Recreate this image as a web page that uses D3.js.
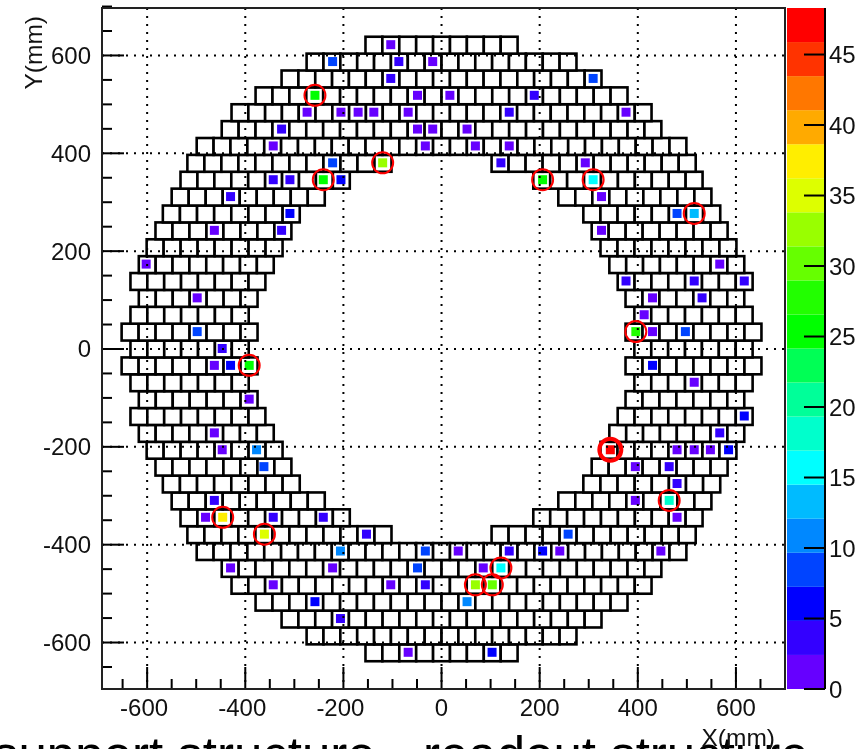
<!DOCTYPE html>
<html>
<head>
<meta charset="utf-8">
<script src="https://d3js.org/d3.v7.min.js"></script>
<style>
  body { margin: 0; background: #fff; overflow: hidden; }
  svg { display: block; font-family: "Liberation Sans", Arial, sans-serif; filter: blur(0.4px); }
  text { fill: #111; }
</style>
</head>
<body>
<svg id="chart" width="861" height="749"></svg>
<script>
const w = 861;
const h = 749;

const margin = { left: 102, right: 76, top: 8, bottom: 60 };

// half widths of each row (mm), index = |row| , row 0 is the middle one
const rowOuter = [634, 652, 634, 617, 634, 617, 601, 583, 568, 550, 532, 518, 499, 448, 428, 379, 326, 275, 155];
const rowInner = [393, 375, 393, 375, 359, 342, 324, 306, 289, 238, 187, 102, 0, 0, 0, 0, 0, 0, 0];
const rowCells = [7, 8, 7, 7, 8, 8, 8, 8, 8, 9, 10, 12, 29, 26, 25, 22, 19, 16, 9];

const rowPitch = 34.5;

// hits: x in mm, row number, charge
const hitX = [-103.5, -222, -87, -18, -103.5, 309, -258, -49, 17, 189,
  -274, -205, -170, -138, -68, 138, 376, -326, -49, -18, 52,
  -343, -33, 69, 138, -222, -120, 121, 293,
  -343, -309, -241, -205, 206, 309, -430, 326, -309, 480, 515,
  -463, -326, 326, -602, 567, 376, 515, 617, -498, 430, 531, 413,
  -498, 396, 430, 497, -447, -463, -430, -392, 430, 515, -392, 617, -463, 567,
  -447, -377, 344, 480, 515, 548, 585, -362, 395, 464, 480,
  -463, 395, 464, -481, -446, -343, -241, 480, -361, -153, 258,
  -206, -33, 34, 138, 206, 241, 447, -430, -222, -49, 85, 121,
  -343, -103.5, -33, 69, 103.5, -258, 52, -206, -68, 103];
const hitRow = [18, 17, 17, 17, 16, 16, 15, 15, 15, 15,
  14, 14, 14, 14, 14, 14, 14, 13, 13, 13, 13,
  12, 12, 12, 12, 11, 11, 11, 11,
  10, 10, 10, 10, 10, 10, 9, 9, 8, 8, 8,
  7, 7, 7, 5, 5, 4, 4, 4, 3, 3, 3, 2,
  1, 1, 1, 1, 0, -1, -1, -1, -1, -2, -3, -4, -5, -5,
  -6, -6, -6, -6, -6, -6, -6, -7, -7, -7, -8,
  -9, -9, -9, -10, -10, -10, -10, -10, -11, -11, -11,
  -12, -12, -12, -12, -12, -12, -12, -13, -13, -13, -13, -13,
  -14, -14, -14, -14, -14, -15, -15, -16, -18, -18];
const hitZ = [1, 8.5, 3.5, 1, 4, 9, 25.5, 1, 1, 3,
  1, 1, 1, 1, 1, 3, 1, 3, 1, 1, 1,
  1, 1, 1, 1, 9, 33, 3, 1,
  3.5, 3, 25.5, 6, 25.5, 16, 3, 1, 6, 9, 14,
  1, 3, 1, 1, 1, 3, 3, 3, 1, 1, 3, 1,
  8, 28, 1, 8, 4, 1, 6, 25.5, 6, 1, 1, 7, 1, 3,
  1, 11, 47, 1, 1, 1, 7, 8, 1, 3, 3,
  3, 1, 19, 1, 37, 3, 3, 1, 35.5, 3, 9,
  11, 8, 1, 3, 5, 1, 1, 1, 1, 8, 1, 16,
  1, 1, 3, 33, 30.5, 6, 11, 4, 1, 6];

const xTicks = [-600, -400, -200, 0, 200, 400, 600];
const yTicks = [-600, -400, -200, 0, 200, 400, 600];
const zTicks = [0, 5, 10, 15, 20, 25, 30, 35, 40, 45];

const palette = ["#6600ff", "#3300ff", "#0000ff", "#0044ff", "#0088ff", "#00bbff", "#00ffff",
  "#00ffcc", "#00ff99", "#00ff55", "#00ff00", "#22ff00", "#66ff00", "#99ff00",
  "#ddff00", "#ffee00", "#ffaa00", "#ff7700", "#ff3300", "#ff0000"];

const zMax = 48.3;
const circleFrom = 13;

const svg = d3.select("#chart");

const x = d3.scaleLinear().domain([-692, 700]).range([margin.left, w - margin.right]);
const y = d3.scaleLinear().domain([-695, 697]).range([h - margin.bottom, margin.top]);
const z = d3.scaleLinear().domain([0, zMax]).range([h - margin.bottom, margin.top]);
const zColor = d3.scaleQuantize().domain([0, zMax]).range(palette);

// build the list of cells, rows are mirrored left/right
const rows = d3.range(-18, 19);
const cells = [];
rows.forEach(function(r) {
    const i = Math.abs(r);
    const outer = rowOuter[i];
    const inner = rowInner[i];
    const n = rowCells[i];
    if (inner === 0) {
        const cw = 2 * outer / n;
        d3.range(n).forEach(function(k) {
            cells.push({ x0: -outer + k * cw, x1: -outer + (k + 1) * cw, r: r });
        });
    } else {
        const cw = (outer - inner) / n;
        d3.range(n).forEach(function(k) {
            cells.push({ x0: -outer + k * cw, x1: -outer + (k + 1) * cw, r: r });
            cells.push({ x0: inner + k * cw, x1: inner + (k + 1) * cw, r: r });
        });
    }
});

// cells
svg.append("g").selectAll("rect")
    .data(cells)
    .enter()
    .append("rect")
    .attr("x", d => x(d.x0))
    .attr("y", d => y(d.r * rowPitch + rowPitch / 2))
    .attr("width", d => x(d.x1) - x(d.x0))
    .attr("height", d => y(d.r * rowPitch - rowPitch / 2) - y(d.r * rowPitch + rowPitch / 2))
    .attr("fill", "#fff")
    .attr("stroke", "#000")
    .attr("stroke-width", 2.6);

const hits = hitX.map((d, i) => ({ x: d, r: hitRow[i], z: hitZ[i] }));

// hits
svg.append("g").selectAll("rect")
    .data(hits)
    .enter()
    .append("rect")
    .attr("x", d => x(d.x) - 4.5)
    .attr("y", d => y(d.r * rowPitch) - 5)
    .attr("width", 9)
    .attr("height", 9)
    .attr("fill", d => zColor(d.z));

// grid
const grid = svg.append("g")
    .attr("stroke", "#000")
    .attr("stroke-width", 2)
    .attr("stroke-dasharray", "2,6");

grid.selectAll("line.gx")
    .data(xTicks)
    .enter()
    .append("line")
    .attr("x1", d => x(d)).attr("x2", d => x(d))
    .attr("y1", margin.top).attr("y2", h - margin.bottom);

grid.selectAll("line.gy")
    .data(yTicks)
    .enter()
    .append("line")
    .attr("class", "gy")
    .attr("y1", d => y(d)).attr("y2", d => y(d))
    .attr("x1", margin.left).attr("x2", w - margin.right);

// red circles round the large hits
svg.append("g").selectAll("circle")
    .data(hits.filter(d => d.z >= circleFrom))
    .enter()
    .append("circle")
    .attr("cx", d => x(d.x))
    .attr("cy", d => y(d.r * rowPitch) - 0.5)
    .attr("r", d => d.z > 40 ? 11 : 10.5)
    .attr("fill", "none")
    .attr("stroke", "#ff0000")
    .attr("stroke-width", d => d.z > 40 ? 4 : 2);

// axes, ticks drawn inward like root does
function drawAxis(g, orient, major, scale) {
    const minor = d3.range(-650, 701, 50);
    g.attr("stroke", "#000").attr("stroke-width", 2);
    minor.forEach(function(v) {
        const len = major.includes(v) ? 22 : 10;
        if (orient === "bottom") {
            g.append("line")
                .attr("x1", scale(v)).attr("x2", scale(v))
                .attr("y1", h - margin.bottom).attr("y2", h - margin.bottom - len);
        } else {
            g.append("line")
                .attr("y1", scale(v)).attr("y2", scale(v))
                .attr("x1", margin.left).attr("x2", margin.left + len);
        }
    });
}

drawAxis(svg.append("g"), "bottom", xTicks, x);
drawAxis(svg.append("g"), "left", yTicks, y);

svg.append("rect")
    .attr("x", margin.left)
    .attr("y", margin.top)
    .attr("width", w - margin.left - margin.right)
    .attr("height", h - margin.top - margin.bottom)
    .attr("fill", "none")
    .attr("stroke", "#222")
    .attr("stroke-width", 2);

svg.append("g").selectAll("text")
    .data(xTicks)
    .enter()
    .append("text")
    .attr("x", d => x(d) - (d < 0 ? 3 : 0))
    .attr("y", 716)
    .attr("text-anchor", "middle")
    .attr("font-size", 24)
    .text(d => d);

svg.append("g").selectAll("text")
    .data(yTicks)
    .enter()
    .append("text")
    .attr("x", 91)
    .attr("y", d => y(d) + 8.5)
    .attr("text-anchor", "end")
    .attr("font-size", 24)
    .text(d => d);

// color bar
const barX = 787;
const barW = 38;
svg.append("g").selectAll("rect")
    .data(palette)
    .enter()
    .append("rect")
    .attr("x", barX)
    .attr("width", barW)
    .attr("y", (d, i) => z((i + 1) * zMax / palette.length))
    .attr("height", (d, i) => z(i * zMax / palette.length) - z((i + 1) * zMax / palette.length))
    .attr("fill", d => d);

svg.append("line")
    .attr("x1", barX + barW).attr("x2", barX + barW)
    .attr("y1", margin.top).attr("y2", h - margin.bottom)
    .attr("stroke", "#000").attr("stroke-width", 2);

svg.append("g").selectAll("line")
    .data(zTicks)
    .enter()
    .append("line")
    .attr("x1", barX + barW - 21).attr("x2", barX + barW)
    .attr("y1", d => z(d)).attr("y2", d => z(d))
    .attr("stroke", "#000").attr("stroke-width", 2);

svg.append("g").selectAll("text")
    .data(zTicks)
    .enter()
    .append("text")
    .attr("x", 829)
    .attr("y", d => z(d) + 8.5)
    .attr("font-size", 24)
    .text(d => d);

// bottom caption, cut off by the page edge
const caption = svg.append("text")
    .attr("y", 773)
    .attr("font-size", 51)
    .style("fill", "#000");
caption.append("tspan").attr("x", -7).text("support structure,");
caption.append("tspan").attr("x", 423).text("readout structure");

svg.append("text")
    .attr("x", 775)
    .attr("y", 745.5)
    .attr("text-anchor", "end")
    .attr("font-size", 24.5)
    .text("X(mm)");

svg.append("text")
    .attr("transform", "translate(42,16) rotate(-90)")
    .attr("text-anchor", "end")
    .attr("font-size", 24.5)
    .text("Y(mm)");
</script>
</body>
</html>
